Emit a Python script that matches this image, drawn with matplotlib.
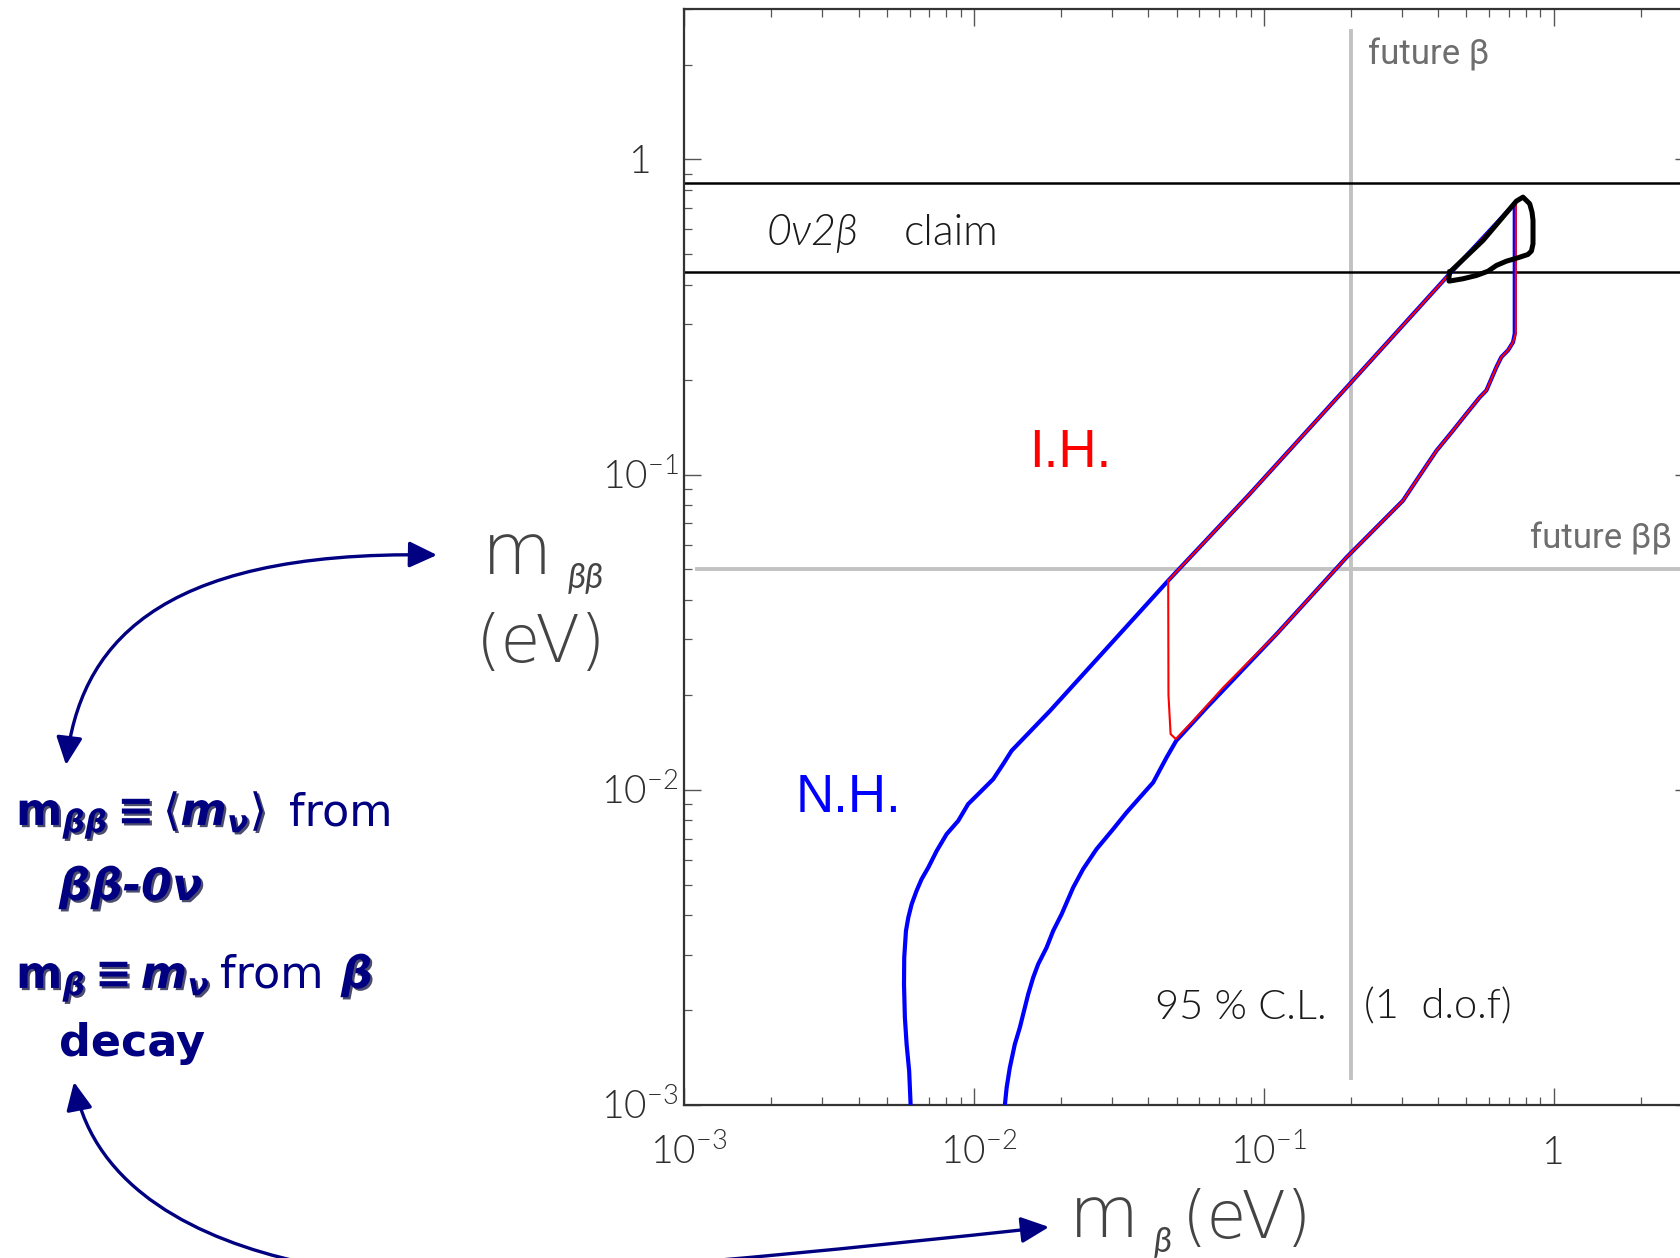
import numpy as np
import matplotlib
matplotlib.use("Agg")
import matplotlib.pyplot as plt
from matplotlib.path import Path
from matplotlib.patches import FancyArrowPatch, ArrowStyle
from matplotlib.transforms import blended_transform_factory, ScaledTranslation
import matplotlib.patheffects as pe

plt.rcParams["mathtext.fontset"] = "dejavusans"

# ---------------- data ----------------
# Normal hierarchy 95% CL contour (m_beta, m_bb) in eV
nh_mbeta = [0.00605, 0.00598, 0.00586, 0.00578, 0.00574, 0.00575, 0.00583, 0.00594,
            0.00610, 0.00634, 0.00660, 0.00696, 0.00744, 0.00805, 0.00883, 0.00955,
            0.01049, 0.01166, 0.01262, 0.01349, 0.0183, 0.0468, 0.0895, 0.198, 0.4375,
            0.734, 0.734, 0.724, 0.696, 0.660, 0.634, 0.586, 0.556, 0.500, 0.4496,
            0.394, 0.345, 0.3021, 0.1928, 0.1107, 0.0634, 0.0499, 0.04619, 0.04153,
            0.03735, 0.03362, 0.03022, 0.02648, 0.02381, 0.02200, 0.02007, 0.01877,
            0.01781, 0.01666, 0.01601, 0.01539, 0.01479, 0.01440, 0.01384, 0.01330,
            0.01297, 0.01279]
nh_mbb = [0.00100, 0.001282, 0.001558, 0.001894, 0.002416, 0.002935, 0.003568, 0.003935,
          0.004336, 0.004779, 0.005205, 0.005666, 0.006400, 0.007232, 0.007973, 0.009006,
          0.009810, 0.01081, 0.01207, 0.01330, 0.0178, 0.0461, 0.0869, 0.194, 0.4335,
          0.724, 0.280, 0.263, 0.248, 0.236, 0.219, 0.185, 0.176, 0.156, 0.138,
          0.119, 0.0993, 0.0827, 0.0546, 0.0312, 0.0182, 0.01432, 0.01266, 0.01055,
          0.009453, 0.008472, 0.007502, 0.006482, 0.005603, 0.004897, 0.004030, 0.003568,
          0.003158, 0.002797, 0.002535, 0.002245, 0.001941, 0.001759, 0.001558, 0.001313,
          0.001135, 0.00100]

# Inverted hierarchy 95% CL contour
ih_mbeta = [0.0468, 0.0895, 0.198, 0.4375, 0.734, 0.740, 0.740, 0.724, 0.696, 0.660,
            0.634, 0.586, 0.556, 0.500, 0.4496, 0.394, 0.345, 0.3021, 0.1928, 0.1107,
            0.0895, 0.0724, 0.0571, 0.0497, 0.0477, 0.0469, 0.0468]
ih_mbb = [0.0461, 0.0869, 0.194, 0.4335, 0.724, 0.724, 0.280, 0.263, 0.248, 0.236,
          0.219, 0.185, 0.176, 0.156, 0.138, 0.119, 0.0993, 0.0827, 0.0546, 0.0312,
          0.0257, 0.0211, 0.01655, 0.01449, 0.01503, 0.0200, 0.0461]

# Region compatible with the 0nu2beta claim
claim_mbeta = [0.438, 0.5705, 0.7437, 0.7837, 0.8264, 0.8420, 0.8486, 0.8486, 0.8380,
               0.8153, 0.7531, 0.6869, 0.6345, 0.5935, 0.5413, 0.4866, 0.4355, 0.4355,
               0.438]
claim_mbb = [0.4386, 0.5532, 0.7374, 0.7590, 0.7233, 0.6800, 0.6402, 0.5399, 0.5120,
             0.4994, 0.4874, 0.4754, 0.4608, 0.4418, 0.4282, 0.4181, 0.4109, 0.4252,
             0.4386]

claim_band = [0.44, 0.84]          # 0nu2beta claim range (eV)
future_bb = 0.05                   # future double-beta sensitivity (eV)
future_b = 0.2                     # future beta-decay sensitivity (eV)

x_ticks = [1e-3, 1e-2, 1e-1, 1.0]
x_tick_labels = [r"$\mathregular{10^{-3}}$", r"$\mathregular{10^{-2}}$",
                 r"$\mathregular{10^{-1}}$", "1"]
y_ticks = [1e-3, 1e-2, 1e-1, 1.0]
y_tick_labels = [r"$\mathregular{10^{-3}}$", r"$\mathregular{10^{-2}}$",
                 r"$\mathregular{10^{-1}}$", "1"]

# ---------------- figure ----------------
W, H = 1681, 1258
fig = plt.figure(figsize=(W / 100, H / 100), dpi=100)
fig.patch.set_facecolor("white")

ax = fig.add_axes([684 / W, (H - 1105) / H, 1008 / W, 1096 / H])
ax.set_xscale("log")
ax.set_yscale("log")
ax.set_xlim(1e-3, 3)
ax.set_ylim(1e-3, 3)

for sp in ax.spines.values():
    sp.set_color("#333333")
    sp.set_linewidth(1.6)

ax.set_xticks(x_ticks)
ax.set_yticks(y_ticks)
ax.tick_params(which="both", direction="in", top=True, right=True,
               labelleft=False, labelbottom=False, color="#555555")
ax.tick_params(which="major", length=12.5, width=1.0)
ax.tick_params(which="minor", length=6, width=0.9)

thin = dict(family=["Lato", "DejaVu Sans"], weight=300)
wide_thin = dict(family=["DejaVu Sans"], weight=200)
lab_col = "#2e2e2e"

# tick labels
tx = blended_transform_factory(ax.transData, ax.transAxes)
ty = blended_transform_factory(ax.transAxes, ax.transData)
for v, s in zip(x_ticks, x_tick_labels):
    dx = 0 if s == "1" else 5
    ax.text(v, 0, s, transform=tx + ScaledTranslation(dx / 100, -59 / 100, fig.dpi_scale_trans),
            ha="center", va="baseline", fontsize=28, color=lab_col, clip_on=False, **thin)
for v, s in zip(y_ticks, y_tick_labels):
    ax.text(0, v, s, transform=ty + ScaledTranslation(-44 / 100, -14 / 100, fig.dpi_scale_trans),
            ha="center", va="baseline", fontsize=28, color=lab_col, clip_on=False, **thin)

# reference lines
grey = "#c2c2c2"
ax.plot([0.00111, 3], [future_bb, future_bb], color=grey, lw=2.8, zorder=1)
ax.plot([future_b, future_b], [0.00122, 2.56], color=grey, lw=2.8, zorder=1)
for c in claim_band:
    ax.axhline(c, color="black", lw=1.8, zorder=2)

# contours
ax.plot(nh_mbeta, nh_mbb, color="#0000ff", lw=3.0, zorder=3,
        solid_joinstyle="round", solid_capstyle="butt")
ax.plot(ih_mbeta, ih_mbb, color="#ff0000", lw=1.5, zorder=4, solid_joinstyle="round")
ax.plot(claim_mbeta, claim_mbb, color="black", lw=3.6, zorder=5, solid_joinstyle="round")

# in-plot labels
ax.text(0.229, 2.0, "future β", fontsize=25, color="#6e6e6e",
        family=["Roboto", "DejaVu Sans"], ha="left", va="baseline")
ax.text(2.55, 0.0582, "future ββ", fontsize=25, color="#6e6e6e",
        family=["Roboto", "DejaVu Sans"], ha="right", va="baseline")
ax.text(0.00192, 0.537, "0ν2β", fontsize=31, color="#1a1a1a", style="italic",
        ha="left", va="baseline", **thin)
ax.text(0.00574, 0.537, "claim", fontsize=31, color="#1a1a1a",
        ha="left", va="baseline", **thin)
ax.text(0.0421, 0.001875, "95 % C.L.", fontsize=30, color="#1a1a1a",
        ha="left", va="baseline", **thin)
ax.text(0.2213, 0.001875, "(1  d.o.f)", fontsize=30, color="#1a1a1a",
        ha="left", va="baseline", **thin)
ax.text(0.01549, 0.106, "I.H.", fontsize=38, color="#ff0000",
        family=["Liberation Sans", "DejaVu Sans"], ha="left", va="baseline")
ax.text(0.00242, 0.00852, "N.H.", fontsize=38, color="#0000ff",
        family=["Liberation Sans", "DejaVu Sans"], ha="left", va="baseline")


def fpos(px, py):
    return px / W, 1 - py / H


# axis titles
ax_col = "#444444"
fig.text(*fpos(482, 574), "m", fontsize=52, color=ax_col, ha="left", va="baseline", **wide_thin)
fig.text(*fpos(568, 588), "ββ", fontsize=25, color=ax_col, style="italic",
         ha="left", va="baseline", family=["Lato", "DejaVu Sans"])
fig.text(*fpos(476, 662), "(eV)", fontsize=47, color=ax_col, ha="left", va="baseline", **wide_thin)

fig.text(*fpos(1069, 1237), "m", fontsize=52, color=ax_col, ha="left", va="baseline", **wide_thin)
fig.text(*fpos(1154, 1252), "β", fontsize=25, color=ax_col, style="italic",
         ha="left", va="baseline", family=["Lato", "DejaVu Sans"])
fig.text(*fpos(1182, 1238), "(eV)", fontsize=47, color=ax_col, ha="left", va="baseline", **wide_thin)

# explanatory text on the left
navy = "#000080"
shadow = [pe.withSimplePatchShadow(offset=(1.6, -1.6), shadow_rgbFace="#000030", alpha=0.7)]
t1 = fig.text(*fpos(16, 825), r"$\mathbf{m}_{\mathbfit{\beta\beta}}\mathbf{\equiv}\langle\mathbfit{m}_{\mathbfit{\nu}}\rangle$",
              fontsize=32, color=navy, ha="left", va="baseline")
t1.set_path_effects(shadow)
fig.text(*fpos(289, 825), "from", fontsize=32, color=navy, ha="left", va="baseline",
         family="DejaVu Sans")
t2 = fig.text(*fpos(59, 900), "ββ-0ν", fontsize=32, color=navy, ha="left", va="baseline",
              family="DejaVu Sans", weight="bold", style="italic")
t2.set_path_effects(shadow)
t3 = fig.text(*fpos(16, 988), r"$\mathbf{m}_{\mathbfit{\beta}}\mathbf{\equiv}\mathbfit{m}_{\mathbfit{\nu}}$",
              fontsize=32, color=navy, ha="left", va="baseline")
t3.set_path_effects(shadow)
fig.text(*fpos(220, 988), "from", fontsize=32, color=navy, ha="left", va="baseline",
         family="DejaVu Sans")
t4 = fig.text(*fpos(341, 988), "β", fontsize=32, color=navy, ha="left", va="baseline",
              family="DejaVu Sans", weight="bold", style="italic")
t4.set_path_effects(shadow)
fig.text(*fpos(59, 1056), "decay", fontsize=32, color=navy, ha="left", va="baseline",
         family="DejaVu Sans", weight="bold")

# connecting arrows
head = ArrowStyle("<|-|>", head_length=17, head_width=8)
p_top = [fpos(*p) for p in [(437, 555), (150, 550), (80, 650), (66, 765)]]
arr1 = FancyArrowPatch(path=Path(p_top, [Path.MOVETO, Path.CURVE4, Path.CURVE4, Path.CURVE4]),
                       arrowstyle=head, mutation_scale=1, color=navy, lw=2.4,
                       transform=fig.transFigure)
fig.add_artist(arr1)

p_bot = [fpos(*p) for p in [(74, 1082), (95, 1190), (200, 1240), (300, 1262),
                             (420, 1290), (650, 1270), (1049, 1227)]]
codes_bot = [Path.MOVETO] + [Path.CURVE4] * 6
arr2 = FancyArrowPatch(path=Path(p_bot, codes_bot), arrowstyle=head, mutation_scale=1,
                       color=navy, lw=2.4, transform=fig.transFigure)
fig.add_artist(arr2)

fig.savefig("out.png", dpi=100)
